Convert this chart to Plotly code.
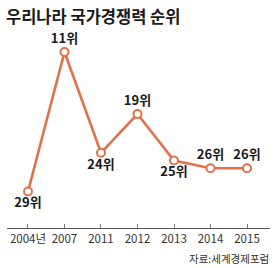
import plotly.graph_objects as go

years = ["2004년", "2007", "2011", "2012", "2013", "2014", "2015"]
ranks = [29, 11, 24, 19, 25, 26, 26]
labels = ["29위", "11위", "24위", "19위", "25위", "26위", "26위"]
positions = ["bottom center", "top center", "bottom center", "top center",
             "bottom center", "top center", "top center"]

xs = list(range(len(years)))
orange = "#E2714A"

fig = go.Figure()
fig.add_trace(go.Scatter(
    x=xs, y=ranks, mode="lines+markers+text",
    line=dict(color=orange, width=2.6),
    marker=dict(size=8, color="white", line=dict(color=orange, width=2)),
    text=labels, textposition=positions,
    textfont=dict(family="Noto Sans CJK KR", size=13, color="#1a1a1a", weight="bold"),
    cliponaxis=False, hoverinfo="skip",
))

L, R, T, B = 7, 10, 40, 40
W, H = 280, 268
pw, ph = W - L - R, H - T - B

def px(x):
    return (x - L) / pw

def py(y):
    return (H - B - y) / ph

fig.update_layout(
    width=W, height=H,
    margin=dict(l=L, r=R, t=T, b=B),
    paper_bgcolor="white", plot_bgcolor="white",
    showlegend=False,
    xaxis=dict(
        range=[-0.575, 6.63], tickmode="array", tickvals=xs, ticktext=years,
        showgrid=False, zeroline=False, showline=True, linecolor="#555555", linewidth=1,
        ticks="inside", ticklen=4, tickcolor="#777777",
        tickfont=dict(family="Noto Sans CJK KR", size=11.5, color="#333333"),
        fixedrange=True,
    ),
    yaxis=dict(range=[33.7, 9.45], visible=False, fixedrange=True),
    annotations=[
        dict(text="우리나라 국가경쟁력 순위", x=px(4), y=py(16), xref="paper", yref="paper",
             showarrow=False, xanchor="left", yanchor="middle",
             font=dict(family="Noto Sans CJK KR", size=16.5, color="#1a1a1a", weight="bold")),
        dict(text="자료:세계경제포럼", x=px(271), y=py(258), xref="paper", yref="paper",
             showarrow=False, xanchor="right", yanchor="middle",
             font=dict(family="Noto Sans CJK KR", size=10.5, color="#333333")),
    ],
)

fig.write_html("out.html")
